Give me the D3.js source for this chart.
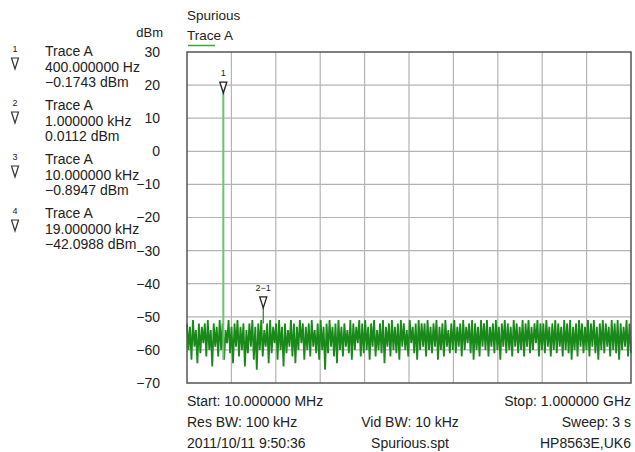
<!DOCTYPE html>
<html>
<head>
<meta charset="utf-8">
<script src="https://cdn.jsdelivr.net/npm/d3@7"></script>
<style>
  body { margin: 0; background: #fff; }
  svg text { font-family: "Liberation Sans", Arial, sans-serif; fill: #222; }
</style>
</head>
<body>
<div id="chart"></div>
<script>
// sweep settings
var startMHz = 10, stopMHz = 1000;
var yTicks = [30, 20, 10, 0, -10, -20, -30, -40, -50, -60, -70];

// marker table on the left
var markerNums = ["1", "2", "3", "4"];
var markerFreqs = ["400.000000 Hz", "1.000000 kHz", "10.000000 kHz", "19.000000 kHz"];
var markerLevels = ["\u22120.1743 dBm", "0.0112 dBm", "\u22120.8947 dBm", "\u221242.0988 dBm"];

// carrier spike
var spikeFreq = [91];
var spikeTop = [17.6];
var spikeBottom = [-63];

// on-trace markers
var traceMarkerLabels = ["1", "2\u22121"];
var traceMarkerFreqs = [91, 180];
var traceMarkerDbm = [17.6, -47.3];

// noise floor trace (dBm), evenly spaced from start to stop
var noiseDbm = [
  -52,-60,-53,-63,-51,-59,-54,-64,-52,-61,-53,-58,-52,-62,-51,-60,-54,-65,-52,-59,
  -53,-62,-51,-60,-52,-63,-54,-58,-51,-61,-53,-64,-52,-59,-51,-62,-53,-60,-52,-65,
  -54,-61,-52,-59,-51,-63,-53,-66,-52,-60,-51,-62,-54,-59,-52,-64,-51,-61,-53,-58,
  -52,-63,-51,-60,-53,-65,-52,-61,-54,-59,-51,-62,-52,-64,-53,-60,-51,-58,-52,-63,
  -53,-60,-52,-62,-51,-59,-54,-61,-52,-63,-51,-60,-53,-66,-52,-61,-51,-59,-53,-62,
  -52,-64,-51,-60,-53,-62,-52,-59,-54,-61,-51,-63,-52,-60,-53,-58,-51,-62,-52,-61,
  -51,-60,-53,-63,-52,-59,-51,-62,-54,-60,-52,-61,-51,-64,-53,-59,-52,-62,-51,-60,
  -53,-61,-52,-63,-51,-59,-52,-60,-54,-62,-51,-58,-53,-61,-52,-63,-51,-60,-52,-59,
  -52,-62,-51,-60,-53,-61,-52,-59,-51,-63,-53,-60,-52,-62,-51,-59,-54,-61,-52,-60,
  -51,-61,-53,-59,-52,-62,-51,-60,-53,-58,-52,-61,-51,-63,-52,-60,-53,-62,-51,-59,
  -52,-60,-51,-62,-53,-59,-52,-61,-51,-60,-53,-63,-52,-59,-51,-61,-52,-60,-53,-62,
  -51,-59,-52,-61,-53,-60,-51,-62,-52,-59,-51,-61,-53,-60,-52,-58,-51,-62,-52,-60,
  -52,-61,-51,-59,-53,-62,-52,-60,-51,-61,-52,-59,-53,-62,-51,-60,-52,-61,-51,-63,
  -53,-60,-52,-62,-51,-59,-52,-61,-53,-60,-51,-62,-52,-59,-51,-61,-53,-63,-52,-60,
  -51,-61,-52,-59,-53,-62,-51,-60,-52,-61,-51,-63,-52,-60,-53,-59,-51,-62,-52,-61
];

var W = 635, H = 452;
var margin = { top: 52, right: 4, bottom: 69, left: 187 };
var width = W - margin.left - margin.right,
    height = H - margin.top - margin.bottom;

var svg = d3.select("#chart").append("svg")
    .attr("width", W)
    .attr("height", H);

var g = svg.append("g")
    .attr("transform", "translate(" + margin.left + "," + margin.top + ")");

var x = d3.scaleLinear().domain([startMHz, stopMHz]).range([0, width]);
var y = d3.scaleLinear().domain([-70, 30]).range([height, 0]);

// grid
var xGrid = d3.range(11).map(function (i) { return startMHz + i * (stopMHz - startMHz) / 10; });
g.selectAll(".vgrid").data(xGrid.slice(1, 10)).enter().append("line")
    .attr("x1", function (d) { return x(d); })
    .attr("x2", function (d) { return x(d); })
    .attr("y1", 0).attr("y2", height)
    .attr("stroke", "#b4b4b4").attr("stroke-width", 1.2);
g.selectAll(".hgrid").data(yTicks.slice(1, 10)).enter().append("line")
    .attr("y1", function (d) { return y(d); })
    .attr("y2", function (d) { return y(d); })
    .attr("x1", 0).attr("x2", width)
    .attr("stroke", "#b4b4b4").attr("stroke-width", 1.2);

// y axis labels
var yAxis = d3.axisLeft(y).tickValues(yTicks).tickSize(0).tickPadding(27)
    .tickFormat(function (d) { return d < 0 ? "\u2212" + Math.abs(d) : d; });
var ya = g.append("g").call(yAxis);
ya.select(".domain").remove();
ya.selectAll("text").style("font-size", "14px")
    .style("font-family", "\"Liberation Sans\", Arial, sans-serif").attr("fill", "#222");
svg.append("text").attr("x", 163).attr("y", 37).attr("text-anchor", "end")
    .style("font-size", "13px").text("dBm");

// noise trace
var step = (stopMHz - startMHz) / (noiseDbm.length - 1);
var line = d3.line()
    .x(function (d, i) { return x(startMHz + i * step); })
    .y(function (d) { return y(d); });
g.append("path").datum(noiseDbm)
    .attr("d", line)
    .attr("fill", "none")
    .attr("stroke", "#198a19")
    .attr("stroke-width", 1.8);

// carrier spike
g.selectAll(".spike").data(spikeFreq).enter().append("line")
    .attr("x1", function (d) { return x(d); })
    .attr("x2", function (d) { return x(d); })
    .attr("y1", function (d, i) { return y(spikeBottom[i]); })
    .attr("y2", function (d, i) { return y(spikeTop[i]); })
    .attr("stroke", "#6ec46e").attr("stroke-width", 2);

// marker 2-1 stem down to noise
g.append("line")
    .attr("x1", x(traceMarkerFreqs[1])).attr("x2", x(traceMarkerFreqs[1]))
    .attr("y1", y(traceMarkerDbm[1])).attr("y2", y(-52))
    .attr("stroke", "#198a19").attr("stroke-width", 1.2);

// frame
g.append("rect").attr("width", width).attr("height", height)
    .attr("fill", "none").attr("stroke", "#555").attr("stroke-width", 1.5);

// on-trace markers
function tri(cx, tipY) {
    return "M" + (cx - 3.5) + "," + (tipY - 11) + "L" + (cx + 3.5) + "," + (tipY - 11) + "L" + cx + "," + tipY + "Z";
}
traceMarkerFreqs.forEach(function (f, i) {
    var cx = x(f), ty = y(traceMarkerDbm[i]);
    g.append("path").attr("d", tri(cx, ty))
        .attr("fill", "#fff").attr("stroke", "#222").attr("stroke-width", 1.3);
    g.append("text").attr("x", cx).attr("y", ty - 17).attr("text-anchor", "middle")
        .style("font-size", "9px").text(traceMarkerLabels[i]);
});

// header
svg.append("text").attr("x", 187).attr("y", 20).style("font-size", "13.5px").text("Spurious");
svg.append("text").attr("x", 187).attr("y", 40).style("font-size", "13.5px").text("Trace A");
svg.append("line").attr("x1", 188).attr("x2", 215).attr("y1", 45.5).attr("y2", 45.5)
    .attr("stroke", "#3aa53a").attr("stroke-width", 1.5);

// marker table
markerNums.forEach(function (n, i) {
    var y0 = 52 + i * 54;
    svg.append("text").attr("x", 15).attr("y", y0).attr("text-anchor", "middle")
        .style("font-size", "9px").text(n);
    svg.append("path").attr("d", tri(15, y0 + 17))
        .attr("fill", "#fff").attr("stroke", "#333").attr("stroke-width", 1.2);
    svg.append("text").attr("x", 45).attr("y", y0 + 4).style("font-size", "14px").text("Trace A");
    svg.append("text").attr("x", 45).attr("y", y0 + 20).style("font-size", "14px").text(markerFreqs[i]);
    svg.append("text").attr("x", 45).attr("y", y0 + 35).style("font-size", "14px").text(markerLevels[i]);
});

// footer
var footer = [
    ["Start: 10.000000 MHz", "", "Stop: 1.000000 GHz"],
    ["Res BW: 100 kHz", "Vid BW: 10 kHz", "Sweep: 3 s"],
    ["2011/10/11 9:50:36", "Spurious.spt", "HP8563E,UK6"]
];
footer.forEach(function (row, i) {
    var yy = 406 + i * 21;
    svg.append("text").attr("x", 187).attr("y", yy).style("font-size", "14px").text(row[0]);
    svg.append("text").attr("x", 410).attr("y", yy).attr("text-anchor", "middle").style("font-size", "14px").text(row[1]);
    svg.append("text").attr("x", 631).attr("y", yy).attr("text-anchor", "end").style("font-size", "14px").text(row[2]);
});
</script>
</body>
</html>
